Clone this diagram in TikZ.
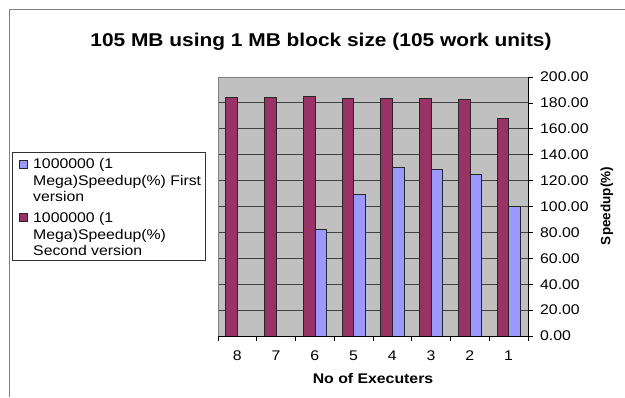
\documentclass[tikz,border=0pt]{standalone}
\usepackage{fontspec}
\setmainfont{Liberation Sans}[FakeStretch=1.13]
\newfontfamily\rotfont{Liberation Sans}
\definecolor{barmaroon}{HTML}{993366}
\definecolor{barlav}{HTML}{9999FF}
\definecolor{plotbg}{HTML}{C0C0C0}
\definecolor{framegray}{HTML}{808080}
\definecolor{gridgray}{HTML}{404040}
\begin{document}
\begin{tikzpicture}[x=1pt,y=-1pt,
  chartframe/.style={draw=framegray,line width=1pt},
  gridline/.style={draw=gridgray,line width=1pt},
  axisline/.style={draw=black,line width=0.8pt},
  mbar/.style={fill=barmaroon,draw=black!85,line width=0.7pt},
  lbar/.style={fill=barlav,draw=black!85,line width=0.7pt},
  ticklabel/.style={inner sep=0pt,font=\fontsize{14}{16}\selectfont},
  axistitle/.style={inner sep=0pt,font=\bfseries\fontsize{14}{16}\selectfont},
  charttitle/.style={inner sep=0pt,font=\bfseries\fontsize{18.5}{22}\selectfont},
  legendtext/.style={inner sep=0pt,align=left,font=\fontsize{14}{16.2}\selectfont},
  legendbox/.style={draw=black!80,fill=white,line width=0.8pt}]
\useasboundingbox (0,0) rectangle (625,397);
% outer chart frame
\draw[chartframe] (9,397) -- (9,9) -- (625,9);
% title
\node[charttitle] (title) at (321,42) {105 MB using 1 MB block size (105 work units)};
% plot area
\fill[plotbg] (218,77) rectangle (528,336);
\foreach \v in {20,40,...,180}{
  \draw[gridline] (218,{336-1.295*\v}) -- (528,{336-1.295*\v});
}
\draw[framegray,line width=0.8pt] (218,77) rectangle (528,336);
% bars
\foreach \m/\b [count=\i from 0] in {184.5/0,184.5/0,185.3/82,183.8/109,183.8/130,183.8/128.5,183/124.5,168/100}{
  \pgfmathsetmacro\gx{218+38.75*\i}
  \draw[mbar] (\gx+7.75,336) rectangle (\gx+19.375,{336-1.295*\m});
  \ifdim\b pt>0pt
    \draw[lbar] (\gx+19.375,336) rectangle (\gx+31,{336-1.295*\b});
  \fi
}
% x axis
\draw[axisline] (218,336) -- (528,336);
\foreach \i in {0,...,8}{
  \draw[axisline] (218+38.75*\i,336) -- (218+38.75*\i,341);
}
\foreach \c [count=\i from 0] in {8,7,6,5,4,3,2,1}{
  \node[ticklabel] (cat\c) at ({218+38.75*(\i+0.5)},356) {\c};
}
\node[axistitle] (xtitle) at (373,378) {No of Executers};
% y axis
\draw[axisline] (528,77) -- (528,336);
\foreach \v in {0,20,...,200}{
  \draw[axisline] (528,{336-1.295*\v}) -- (533,{336-1.295*\v});
  \node[ticklabel,anchor=west] (ylab\v) at (540,{336-1.295*\v}) {\v.00};
}
\node[inner sep=0pt,rotate=90,font=\rotfont\bfseries\fontsize{13.5}{16}\selectfont] (ytitle) at (607,206) {Speedup(\%)};
% legend
\draw[legendbox] (12,152) rectangle (205,260);
\draw[lbar] (19,160) rectangle (27,168);
\draw[mbar] (19,213) rectangle (27,221);
\node[legendtext,anchor=north west] (leg1) at (33,158.5) {1000000 (1\\Mega)Speedup(\%) First\\version};
\node[legendtext,anchor=north west] (leg2) at (33,212.5) {1000000 (1\\Mega)Speedup(\%)\\Second version};
\end{tikzpicture}
\end{document}
